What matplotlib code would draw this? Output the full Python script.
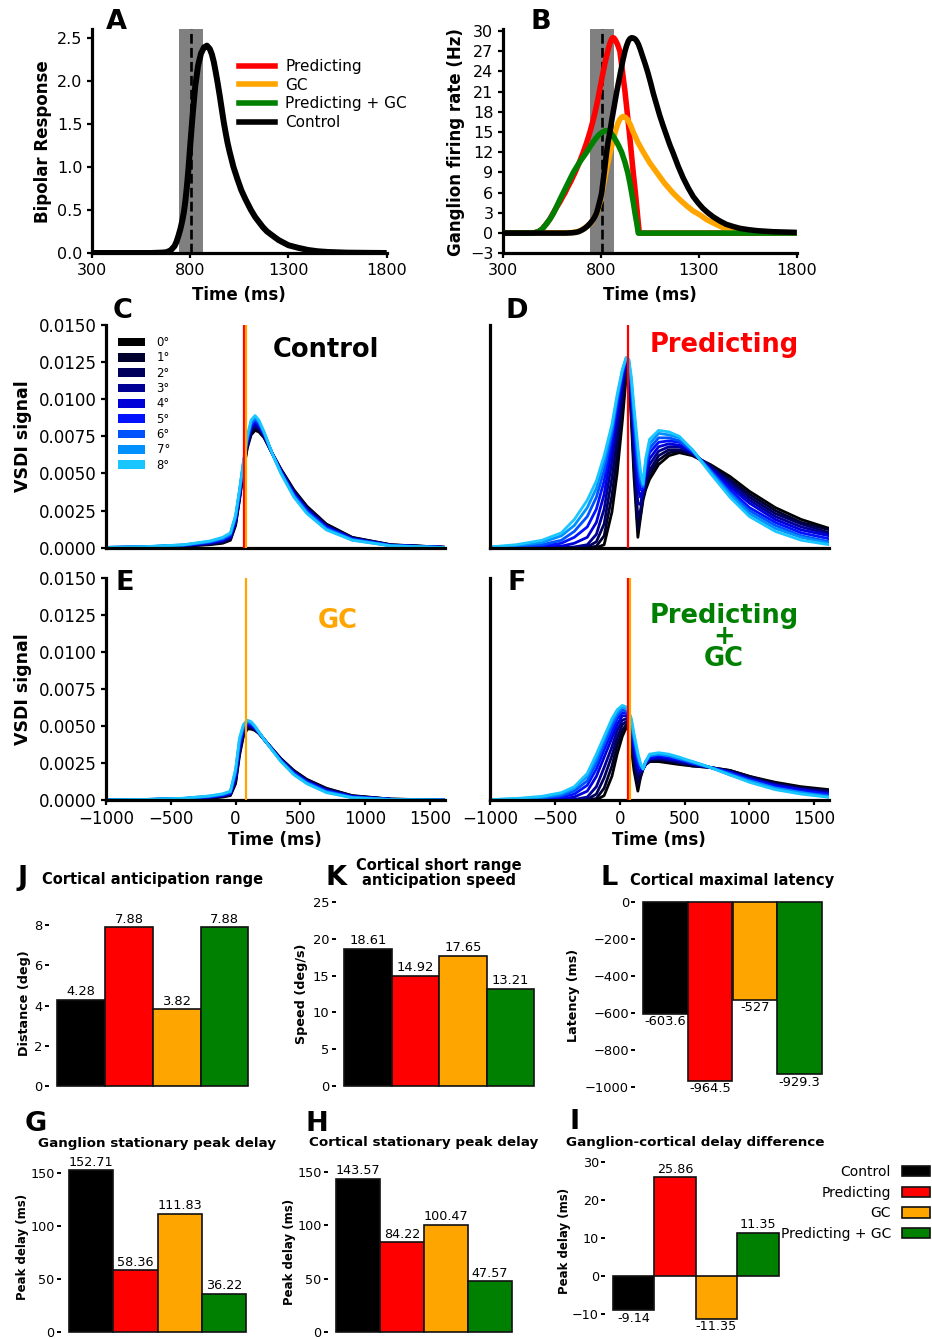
import matplotlib
matplotlib.use("Agg")
import matplotlib.pyplot as plt
from matplotlib.patches import Patch
from matplotlib.lines import Line2D
from matplotlib.ticker import FormatStrFormatter

# ---------------- DATA ----------------
STIM_START, STIM_END, STIM_CENTER = 745, 865, 805

# Panel A: bipolar response (time ms, value)
bip_t = [300, 600, 660, 680, 700, 720, 730, 740, 750, 760, 768, 775, 782, 790, 800, 812, 825, 840, 855, 870,
         885, 900, 910, 920, 930, 940, 950, 960, 970, 980, 990, 1000, 1010, 1020, 1040, 1060, 1080, 1109, 1130, 1150,
         1170, 1191, 1220, 1250, 1300, 1350, 1400, 1450, 1500, 1600, 1800]
bip_v = [0, 0, 0.005, 0.01, 0.03, 0.08, 0.13, 0.2, 0.28, 0.38, 0.48, 0.6, 0.75, 0.95, 1.25, 1.6, 1.93, 2.18, 2.32, 2.39,
         2.41, 2.37, 2.31, 2.22, 2.1, 1.97, 1.83, 1.68, 1.53, 1.40, 1.28, 1.18, 1.09, 1.0, 0.86, 0.73, 0.63, 0.5, 0.42, 0.36,
         0.30, 0.25, 0.2, 0.15, 0.09, 0.06, 0.035, 0.02, 0.012, 0.004, 0.0]

# Panel B: ganglion firing rate
pred_t = [300, 440, 460, 480, 500, 520, 540, 557, 575, 590, 605, 617, 630, 645, 668, 690, 710, 728, 744, 758,
          771, 782, 792, 802, 812, 823, 835, 845, 853, 860, 867, 875, 885, 897, 910, 923, 934, 945, 955, 965,
          976, 986, 996, 1800]
pred_v = [0, 0, 0.05, 0.2, 0.6, 1.3, 2.1, 3, 3.9, 4.6, 5.4, 6, 6.8, 7.6, 9, 10.5, 12, 13.5, 15, 16.5,
          18, 19.5, 21, 22.5, 24, 25.5, 27, 28.1, 28.7, 29, 28.95, 28.6, 28, 27, 24, 21, 18, 15, 12, 9,
          6, 3, 0, 0]
gc_t = [300, 650, 693, 720, 750, 778, 795, 812, 829, 850, 865, 876, 887, 897, 906, 914, 924, 935, 950, 965,
        990, 1017, 1050, 1085, 1125, 1170, 1205, 1240, 1270, 1306, 1340, 1374, 1410, 1442, 1490, 1550, 1620, 1700, 1800]
gc_v = [0, 0.05, 0.3, 0.8, 1.5, 2.9, 4.5, 7, 9.5, 12.3, 14.1, 15.3, 16.3, 16.9, 17.2, 17.3, 17.2, 16.9, 16.1, 15,
        13.4, 12, 10.4, 9, 7.4, 5.9, 4.9, 4.0, 3.3, 2.7, 2.0, 1.5, 1.0, 0.6, 0.35, 0.15, 0.06, 0.02, 0.0]
predgc_t = [300, 440, 460, 480, 500, 520, 540, 557, 575, 591, 608, 625, 642, 659, 676, 693, 710, 727, 744, 760,
            775, 790, 803, 815, 825, 835, 845, 855, 865, 875, 890, 906, 922, 937, 947, 957, 966, 974, 983, 991, 1800]
predgc_v = [0, 0, 0.05, 0.2, 0.6, 1.3, 2.1, 2.9, 4.0, 5.0, 6.0, 7.0, 8.0, 9.0, 9.8, 10.6, 11.3, 12.0, 12.8, 13.5,
            14.1, 14.6, 14.9, 15.1, 15.2, 15.2, 15.0, 14.7, 14.3, 13.8, 13.0, 12.0, 10.6, 9.0, 7.6, 6.0, 4.5, 3.0, 1.5, 0, 0]
ctrl_t = [300, 620, 650, 670, 685, 700, 715, 730, 745, 760, 770, 778, 785, 792, 798, 804, 810, 817, 823, 829,
          837, 846, 854, 863, 872, 881, 891, 901, 912, 923, 931, 940, 948, 957, 966, 975, 984, 992, 1001, 1010,
          1025, 1040, 1054, 1068, 1084, 1100, 1117, 1135, 1152, 1170, 1195, 1220, 1246, 1272, 1296, 1320, 1347, 1374,
          1407, 1440, 1475, 1510, 1555, 1600, 1680, 1800]
ctrl_v = [0, 0, 0.04, 0.1, 0.2, 0.4, 0.65, 1.0, 1.45, 2.0, 2.5, 3.0, 3.7, 4.5, 5.2, 6.0, 7.4, 9.0, 10.5, 12.0,
          13.6, 15.0, 16.5, 18.0, 19.5, 21.0, 22.5, 24.0, 25.6, 27.0, 27.8, 28.5, 28.85, 29.0, 28.95, 28.8, 28.45, 28.0, 27.3, 26.5,
          25.2, 23.8, 22.3, 20.7, 19.1, 17.5, 16.0, 14.5, 13.1, 11.8, 9.9, 8.2, 6.7, 5.4, 4.5, 3.7, 3.0, 2.4,
          1.8, 1.3, 0.98, 0.7, 0.5, 0.35, 0.2, 0.1]

condition_labels = ['Predicting', 'GC', 'Predicting + GC', 'Control']

# VSDI curves, one list per eccentricity 0..8 deg
deg_labels = ['0°', '1°', '2°', '3°', '4°', '5°', '6°', '7°', '8°']
deg_colors = ['#000000', '#00002e', '#00005c', '#000094', '#0000d8', '#0012ff', '#0052ff', '#0090ff', '#1ac6ff']

PRED_LINE, GC_LINE = 65, 80

t_ce = [-1000, -700, -400, -200, -100, -40, 0, 30, 60, 90, 120, 150, 180, 220, 280, 350, 450, 550, 700, 900, 1200, 1616]
vsdi_control = [
    [0.00001, 0.00003, 0.0001, 0.0002, 0.0003, 0.0005, 0.0015, 0.0032, 0.0051, 0.0067, 0.0076, 0.0079, 0.0078, 0.0074, 0.0064, 0.0053, 0.0039, 0.0028, 0.0016, 0.0007, 0.0002, 0.00003],
    [0.00001, 0.000035, 0.00011, 0.00023, 0.00035, 0.00056, 0.00159, 0.00329, 0.00519, 0.0068, 0.00773, 0.00803, 0.0079, 0.00745, 0.0064, 0.00526, 0.00384, 0.00274, 0.00155, 0.00068, 0.00019, 0.00003],
    [0.00001, 0.00004, 0.000125, 0.00026, 0.0004, 0.00063, 0.00168, 0.00338, 0.00528, 0.0069, 0.00785, 0.00815, 0.008, 0.0075, 0.0064, 0.00523, 0.00378, 0.00268, 0.0015, 0.00065, 0.00018, 0.00003],
    [0.00001, 0.000045, 0.00014, 0.00029, 0.00045, 0.00069, 0.00176, 0.00346, 0.00536, 0.007, 0.00798, 0.00828, 0.0081, 0.00755, 0.0064, 0.00519, 0.00371, 0.00261, 0.00145, 0.00063, 0.00017, 0.00002],
    [0.00002, 0.00005, 0.00015, 0.00033, 0.0005, 0.00075, 0.00185, 0.00355, 0.00545, 0.0071, 0.0081, 0.0084, 0.0082, 0.0076, 0.0064, 0.00515, 0.00365, 0.00255, 0.0014, 0.0006, 0.00016, 0.00002],
    [0.00002, 0.000055, 0.00016, 0.00036, 0.00055, 0.00081, 0.00194, 0.00364, 0.00554, 0.0072, 0.00823, 0.00853, 0.0083, 0.00765, 0.0064, 0.00511, 0.00359, 0.00249, 0.00135, 0.00058, 0.00015, 0.00002],
    [0.00002, 0.00006, 0.000175, 0.00039, 0.0006, 0.00088, 0.00203, 0.00373, 0.00563, 0.0073, 0.00835, 0.00865, 0.0084, 0.0077, 0.0064, 0.00508, 0.00353, 0.00243, 0.0013, 0.00055, 0.00014, 0.00001],
    [0.00002, 0.000065, 0.00019, 0.00042, 0.00065, 0.00094, 0.00211, 0.00381, 0.00571, 0.0074, 0.00848, 0.00878, 0.0085, 0.00775, 0.0064, 0.00504, 0.00346, 0.00236, 0.00125, 0.00053, 0.00013, 0.00001],
    [0.00002, 0.00007, 0.0002, 0.00045, 0.0007, 0.001, 0.0022, 0.0039, 0.0058, 0.0075, 0.0086, 0.0089, 0.0086, 0.0078, 0.0064, 0.005, 0.0034, 0.0023, 0.0012, 0.0005, 0.00012, 0.00001],
]
vsdi_gc = [
    [0.0, 0.00002, 0.00006, 0.00012, 0.0002, 0.0003, 0.0011, 0.003, 0.0043, 0.0048, 0.0048, 0.0047, 0.0045, 0.0041, 0.0035, 0.0028, 0.002, 0.0014, 0.0008, 0.0003, 0.00006, 0.00001],
    [0.0, 0.000022, 0.000068, 0.00014, 0.00023, 0.00034, 0.00123, 0.00315, 0.0044, 0.00488, 0.00486, 0.00474, 0.00451, 0.0041, 0.00349, 0.00278, 0.00196, 0.00136, 0.00076, 0.00028, 0.000056, 0.00001],
    [0.0, 0.000025, 0.000075, 0.00016, 0.00026, 0.00038, 0.00135, 0.0033, 0.0045, 0.00495, 0.00493, 0.00478, 0.00453, 0.0041, 0.00348, 0.00275, 0.00193, 0.00133, 0.00073, 0.00026, 0.000053, 0.00001],
    [0.0, 0.000027, 0.000083, 0.00018, 0.00028, 0.00041, 0.00148, 0.00345, 0.0046, 0.00503, 0.00499, 0.00481, 0.00454, 0.0041, 0.00346, 0.00273, 0.00189, 0.00129, 0.00069, 0.00024, 0.000049, 0.00001],
    [0.00001, 0.00003, 0.00009, 0.0002, 0.00031, 0.00045, 0.0016, 0.0036, 0.0047, 0.0051, 0.00505, 0.00485, 0.00455, 0.0041, 0.00345, 0.0027, 0.00185, 0.00125, 0.00065, 0.00023, 0.000045, 0.00001],
    [0.00001, 0.000032, 0.000098, 0.00022, 0.00034, 0.00049, 0.00173, 0.00375, 0.0048, 0.00518, 0.00511, 0.00489, 0.00456, 0.0041, 0.00344, 0.00268, 0.00181, 0.00121, 0.00061, 0.00021, 0.000041, 0.0],
    [0.00001, 0.000035, 0.000105, 0.00024, 0.00037, 0.00053, 0.00185, 0.0039, 0.0049, 0.00525, 0.00518, 0.00493, 0.00458, 0.0041, 0.00343, 0.00265, 0.00178, 0.00118, 0.00058, 0.00019, 0.000038, 0.0],
    [0.00001, 0.000037, 0.000113, 0.00026, 0.00039, 0.00056, 0.00198, 0.00405, 0.005, 0.00533, 0.00524, 0.00496, 0.00459, 0.0041, 0.00341, 0.00263, 0.00174, 0.00114, 0.00054, 0.00017, 0.000034, 0.0],
    [0.00001, 0.00004, 0.00012, 0.00028, 0.00042, 0.0006, 0.0021, 0.0042, 0.0051, 0.0054, 0.0053, 0.005, 0.0046, 0.0041, 0.0034, 0.0026, 0.0017, 0.0011, 0.0005, 0.00015, 0.00003, 0.0],
]

t_df = [-1000, -800, -600, -450, -350, -250, -180, -120, -60, -20, 20, 50, 70, 90, 110, 140, 160, 180, 200,
        230, 300, 380, 460, 560, 700, 850, 1000, 1200, 1400, 1616]
vsdi_pred = [
    [0, 0, 0, 0, 0, 0, 0, 0.0002, 0.0024, 0.005, 0.0085, 0.0115, 0.0117, 0.0085, 0.0048, 0.0007, 0.002, 0.0032, 0.0039,
     0.0046, 0.0056, 0.0062, 0.0064, 0.0062, 0.0056, 0.0048, 0.0038, 0.0027, 0.0019, 0.0013],
    [0, 0, 0, 0, 0, 0, 0.0001, 0.0008, 0.0035, 0.0062, 0.0095, 0.0119, 0.0119, 0.009, 0.0055, 0.0012, 0.0022, 0.0034, 0.0041,
     0.0049, 0.0059, 0.0064, 0.0065, 0.0063, 0.0055, 0.0046, 0.0036, 0.0025, 0.0017, 0.0012],
    [0, 0, 0, 0, 0, 0.00005, 0.0004, 0.0016, 0.0047, 0.0073, 0.0103, 0.0122, 0.012, 0.0094, 0.0062, 0.002, 0.0025, 0.0036, 0.0044,
     0.0052, 0.0062, 0.0066, 0.0066, 0.0063, 0.0055, 0.0045, 0.0034, 0.0023, 0.0016, 0.001],
    [0, 0, 0, 0, 0.00005, 0.0002, 0.0009, 0.0026, 0.0058, 0.0083, 0.0109, 0.0124, 0.0122, 0.0098, 0.0069, 0.003, 0.0029, 0.0038, 0.0047,
     0.0056, 0.0065, 0.0068, 0.0068, 0.0064, 0.0054, 0.0043, 0.0032, 0.0021, 0.0014, 0.0009],
    [0, 0, 0.00005, 0.0001, 0.0003, 0.0007, 0.0017, 0.0036, 0.0067, 0.009, 0.0113, 0.0126, 0.0123, 0.0102, 0.0075, 0.004, 0.0034, 0.0039, 0.005,
     0.006, 0.0068, 0.007, 0.0069, 0.0064, 0.0053, 0.0041, 0.003, 0.0019, 0.0012, 0.0008],
    [0.00001, 0.00005, 0.0001, 0.0003, 0.0007, 0.0014, 0.0026, 0.0045, 0.0073, 0.0095, 0.0116, 0.0127, 0.0124, 0.0106, 0.0081, 0.0049, 0.0039, 0.004, 0.0053,
     0.0064, 0.0071, 0.0072, 0.0071, 0.0065, 0.0052, 0.0039, 0.0027, 0.0017, 0.001, 0.0006],
    [0.00002, 0.0001, 0.0002, 0.0005, 0.0011, 0.0021, 0.0034, 0.0052, 0.0077, 0.0099, 0.0118, 0.0127, 0.0125, 0.0109, 0.0086, 0.0056, 0.0044, 0.0041, 0.0055,
     0.0067, 0.0074, 0.0074, 0.0072, 0.0065, 0.0052, 0.0037, 0.0025, 0.0015, 0.0008, 0.0004],
    [0.00003, 0.00015, 0.00035, 0.0008, 0.0015, 0.0027, 0.004, 0.0058, 0.008, 0.0101, 0.0119, 0.0128, 0.0126, 0.0112, 0.0091, 0.0062, 0.0048, 0.0042, 0.0058,
     0.007, 0.0077, 0.0076, 0.0074, 0.0066, 0.0051, 0.0036, 0.0023, 0.0013, 0.0007, 0.0003],
    [0.00005, 0.0002, 0.0005, 0.001, 0.0019, 0.0032, 0.0045, 0.0062, 0.0083, 0.0103, 0.012, 0.0128, 0.0127, 0.0115, 0.0095, 0.0068, 0.0052, 0.0043, 0.006,
     0.0073, 0.0079, 0.0078, 0.0075, 0.0066, 0.005, 0.0034, 0.0021, 0.0011, 0.0005, 0.0002],
]
vsdi_predgc = [
    [0, 0, 0, 0, 0, 0, 0, 0.0003, 0.0016, 0.0031, 0.0043, 0.0049, 0.0047, 0.0035, 0.002, 0.0006, 0.0015, 0.0021, 0.0024,
     0.0026, 0.0026, 0.0025, 0.0024, 0.0023, 0.0022, 0.002, 0.0016, 0.0012, 0.0009, 0.0007],
    [0, 0, 0, 0, 0, 0, 0.0001, 0.0008, 0.0023, 0.0037, 0.0047, 0.0051, 0.0049, 0.0038, 0.0024, 0.001, 0.0016, 0.0021, 0.0024,
     0.0026, 0.0027, 0.0026, 0.0025, 0.0023, 0.0022, 0.002, 0.0016, 0.0011, 0.0008, 0.0006],
    [0, 0, 0, 0, 0, 0.00005, 0.0004, 0.0015, 0.003, 0.0042, 0.0051, 0.0053, 0.0051, 0.0041, 0.0028, 0.0014, 0.0018, 0.0021, 0.0025,
     0.0027, 0.0028, 0.0027, 0.0025, 0.0024, 0.0022, 0.0019, 0.0015, 0.0011, 0.0008, 0.0006],
    [0, 0, 0, 0, 0.00003, 0.0002, 0.0009, 0.0022, 0.0036, 0.0047, 0.0054, 0.0055, 0.0053, 0.0044, 0.0031, 0.0018, 0.0019, 0.0021, 0.0025,
     0.0028, 0.0028, 0.0027, 0.0026, 0.0024, 0.0022, 0.0019, 0.0015, 0.001, 0.0007, 0.0005],
    [0, 0, 0.00003, 0.00008, 0.0002, 0.0006, 0.0016, 0.0029, 0.0042, 0.0051, 0.0057, 0.0057, 0.0055, 0.0046, 0.0035, 0.0021, 0.002, 0.0021, 0.0025,
     0.0028, 0.0029, 0.0028, 0.0027, 0.0025, 0.0022, 0.0019, 0.0014, 0.001, 0.0007, 0.0004],
    [0.00001, 0.00003, 0.00007, 0.0002, 0.0004, 0.001, 0.0021, 0.0034, 0.0046, 0.0055, 0.0059, 0.0059, 0.0056, 0.0049, 0.0038, 0.0025, 0.0022, 0.0021, 0.0025,
     0.0029, 0.003, 0.0029, 0.0027, 0.0025, 0.0022, 0.0018, 0.0014, 0.0009, 0.0006, 0.0004],
    [0.00001, 0.00005, 0.00012, 0.0003, 0.0006, 0.0013, 0.0025, 0.0038, 0.005, 0.0057, 0.0061, 0.006, 0.0058, 0.0051, 0.0041, 0.0028, 0.0023, 0.0021, 0.0026,
     0.003, 0.0031, 0.003, 0.0028, 0.0025, 0.0022, 0.0018, 0.0013, 0.0008, 0.0005, 0.0003],
    [0.00002, 0.00008, 0.00018, 0.0004, 0.0008, 0.0016, 0.0028, 0.0041, 0.0053, 0.0059, 0.0063, 0.0062, 0.0059, 0.0053, 0.0043, 0.003, 0.0024, 0.0021, 0.0026,
     0.003, 0.0031, 0.003, 0.0028, 0.0026, 0.0022, 0.0017, 0.0013, 0.0008, 0.0005, 0.0002],
    [0.00003, 0.0001, 0.00025, 0.0005, 0.0009, 0.0018, 0.0031, 0.0043, 0.0055, 0.0061, 0.0064, 0.0063, 0.006, 0.0055, 0.0045, 0.0032, 0.0025, 0.0021, 0.0026,
     0.0031, 0.0032, 0.0031, 0.0029, 0.0026, 0.0022, 0.0017, 0.0012, 0.0007, 0.0004, 0.00018],
]

# Bar panels
bar_categories = ['Control', 'Predicting', 'GC', 'Predicting + GC']
bar_colors = ['#000000', '#ff0000', '#ffa500', '#008000']
anticipation_range = [4.28, 7.88, 3.82, 7.88]
anticipation_speed = [18.61, 14.92, 17.65, 13.21]
maximal_latency = [-603.6, -964.5, -527, -929.3]
ganglion_peak_delay = [152.71, 58.36, 111.83, 36.22]
cortical_peak_delay = [143.57, 84.22, 100.47, 47.57]
delay_difference = [-9.14, 25.86, -11.35, 11.35]

# ---------------- FIGURE ----------------
W, H = 932, 1339
fig = plt.figure(figsize=(W / 100, H / 100), dpi=100)


def add_ax(l, t, r, b):
    return fig.add_axes([l / W, 1 - b / H, (r - l) / W, (b - t) / H])


def ftext(x, y, s, **kw):
    return fig.text(x / W, 1 - y / H, s, **kw)


def style_line_ax(ax, tick_size):
    for s in ['top', 'right']:
        ax.spines[s].set_visible(False)
    for s in ['left', 'bottom']:
        ax.spines[s].set_linewidth(2.3)
    ax.tick_params(direction='out', length=3.4, width=1.6, labelsize=tick_size, pad=3.5)


RED, ORANGE, GREEN = '#ff0000', '#ffa500', '#008000'
LKW = dict(solid_joinstyle='round', solid_capstyle='butt')

# ---- Panel A ----
axA = add_ax(92, 29.3, 386.7, 253)
axA.axvspan(STIM_START, STIM_END, color='#808080', lw=0, zorder=1)
axA.axvline(STIM_CENTER, color='k', ls='--', lw=1.9, zorder=2)
axA.plot(bip_t, bip_v, color='k', lw=4.3, zorder=3, **LKW)
axA.set_xlim(300, 1800)
axA.set_ylim(0, 2.6)
axA.set_xticks([300, 800, 1300, 1800])
axA.set_yticks([0, 0.5, 1.0, 1.5, 2.0, 2.5])
axA.yaxis.set_major_formatter(FormatStrFormatter('%.1f'))
style_line_ax(axA, 11.5)
handlesA = [Line2D([], [], color=c, lw=4) for c in [RED, ORANGE, GREEN, 'k']]
fig.legend(handlesA, condition_labels, loc='upper left', bbox_to_anchor=(231 / W, 1 - 51.5 / H),
           frameon=False, fontsize=11, handlelength=2.4, handletextpad=0.65, labelspacing=0.24, borderpad=0)

# ---- Panel B ----
axB = add_ax(503, 29.3, 796.7, 253.3)
axB.axvspan(STIM_START, STIM_END, color='#808080', lw=0, zorder=1)
axB.axvline(STIM_CENTER, color='k', ls='--', lw=1.9, zorder=2)
axB.plot(pred_t, pred_v, color=RED, lw=4, zorder=3, **LKW)
axB.plot(gc_t, gc_v, color=ORANGE, lw=4, zorder=4, **LKW)
axB.plot(predgc_t, predgc_v, color=GREEN, lw=4, zorder=5, **LKW)
axB.plot(ctrl_t, ctrl_v, color='k', lw=4, zorder=6, **LKW)
axB.set_xlim(300, 1800)
axB.set_ylim(-3, 30.25)
axB.set_xticks([300, 800, 1300, 1800])
axB.set_yticks(list(range(-3, 31, 3)))
style_line_ax(axB, 11.5)

ftext(43, 141.7, 'Bipolar Response', rotation=90, ha='center', va='center', fontsize=12, fontweight='bold')
ftext(455.7, 141.7, 'Ganglion firing rate (Hz)', rotation=90, ha='center', va='center', fontsize=12, fontweight='bold')
ftext(239, 295, 'Time (ms)', ha='center', va='center', fontsize=12, fontweight='bold')
ftext(650, 295, 'Time (ms)', ha='center', va='center', fontsize=12, fontweight='bold')

# ---- Panels C-F ----
XL = (-1000, 1616)
axC = add_ax(106, 325, 445, 547.7)
axD = add_ax(490, 325, 829.3, 547.7)
axE = add_ax(106, 578.3, 445, 800)
axF = add_ax(490, 578.3, 829.3, 800)

for ax, tt, data in [(axC, t_ce, vsdi_control), (axD, t_df, vsdi_pred),
                     (axE, t_ce, vsdi_gc), (axF, t_df, vsdi_predgc)]:
    for k, vals in enumerate(data):
        ax.plot(tt, vals, color=deg_colors[k], lw=2.0, zorder=2 + k * 0.01, **LKW)
    ax.set_xlim(*XL)
    ax.set_ylim(0, 0.015)
    style_line_ax(ax, 12)
    ax.set_xticks([-1000, -500, 0, 500, 1000, 1500])
    ax.set_yticks([0, 0.0025, 0.005, 0.0075, 0.01, 0.0125, 0.015])
    ax.yaxis.set_major_formatter(FormatStrFormatter('%.4f'))

axC.axvline(PRED_LINE, color=RED, lw=1.6, zorder=5)
axC.axvline(GC_LINE, color=ORANGE, lw=1.6, zorder=5)
axD.axvline(PRED_LINE, color=RED, lw=1.6, zorder=5)
axE.axvline(GC_LINE, color=ORANGE, lw=1.6, zorder=5)
axF.axvline(PRED_LINE, color=RED, lw=1.6, zorder=5)
axF.axvline(GC_LINE, color=ORANGE, lw=1.6, zorder=5)

for ax in (axC, axD):
    ax.tick_params(bottom=False, labelbottom=False)
for ax in (axD, axF):
    ax.tick_params(left=False, labelleft=False)

handlesC = [Patch(facecolor=c, edgecolor='none') for c in deg_colors]
axC.legend(handlesC, deg_labels, loc='upper left', bbox_to_anchor=((118 - 106) / 339, (547.7 - 336) / 222.7),
           frameon=False, fontsize=8.4, handlelength=2.3, handleheight=0.75, handletextpad=1.0,
           labelspacing=0.2, borderpad=0, borderaxespad=0)

ftext(325.5, 356.7, 'Control', ha='center', va='baseline', fontsize=18.5, fontweight='bold', color='k')
ftext(724, 351.7, 'Predicting', ha='center', va='baseline', fontsize=18.5, fontweight='bold', color=RED)
ftext(338, 628.3, 'GC', ha='center', va='baseline', fontsize=18.5, fontweight='bold', color=ORANGE)
ftext(724, 666, 'Predicting\n+\nGC', ha='center', va='baseline', multialignment='center',
      linespacing=0.78, fontsize=18.5, fontweight='bold', color=GREEN)

ftext(23.5, 436.5, 'VSDI signal', rotation=90, ha='center', va='center', fontsize=12.5, fontweight='bold')
ftext(23.5, 689, 'VSDI signal', rotation=90, ha='center', va='center', fontsize=12.5, fontweight='bold')
ftext(275, 840, 'Time (ms)', ha='center', va='center', fontsize=12, fontweight='bold')
ftext(659, 840, 'Time (ms)', ha='center', va='center', fontsize=12, fontweight='bold')

# ---- Panel letters ----
for letter, x, y in [('A', 106, 29.3), ('B', 530.7, 29.3), ('C', 113, 318), ('D', 505, 318),
                     ('E', 115, 590), ('F', 507.7, 590),
                     ('J', 17.3, 885), ('K', 325, 885), ('L', 600.7, 885),
                     ('G', 25, 1130.7), ('H', 305, 1130.7), ('I', 569.3, 1129.3)]:
    ftext(x, y, letter, ha='left', va='baseline', fontsize=19.5, fontweight='bold')

# ---- Bar panels ----
MARGIN = 0.175


def bar_panel(bar_left, bw, y0, ppu, ylo, yhi, values, ticks, ylabel, ylabel_x, lab_size, tick_size):
    l = bar_left - MARGIN * bw
    r = bar_left + (4 + MARGIN) * bw
    t = y0 - yhi * ppu
    b = y0 - ylo * ppu
    ax = add_ax(l, t, r, b)
    bars = ax.bar(range(4), values, width=1.0, color=bar_colors, edgecolor='#111111', linewidth=1.2)
    for bar in bars:
        bar.set_clip_on(False)
    ax.set_xlim(-0.5 - MARGIN, 3.5 + MARGIN)
    ax.set_ylim(ylo, yhi)
    ax.set_yticks(ticks)
    ax.set_xticks([])
    for s in ax.spines.values():
        s.set_visible(False)
    ax.tick_params(axis='y', direction='out', length=3.2, width=1.4, labelsize=tick_size, pad=1.5)
    for i, v in enumerate(values):
        ax.annotate(f"{v:g}", (i, v), xytext=(0, 1.2 if v >= 0 else -1.2), textcoords='offset points',
                    ha='center', va='bottom' if v >= 0 else 'top', fontsize=tick_size,
                    annotation_clip=False)
    ftext(ylabel_x, (t + b) / 2 if ylo >= 0 else y0 + (abs(ylo) * ppu - yhi * ppu) / 2, ylabel,
          rotation=90, ha='center', va='center', fontsize=lab_size, fontweight='bold')
    return ax


bar_panel(57.3, 47.75, 1086.3, 20.16, 0, 8.274, anticipation_range, [0, 2, 4, 6, 8],
          'Distance (deg)', 25, 9.2, 9.4)
bar_panel(344, 47.6, 1086.3, 7.384, 0, 25, anticipation_speed, [0, 5, 10, 15, 20, 25],
          'Speed (deg/s)', 301.7, 9.2, 9.4)
bar_panel(643.3, 44.6, 901.7, 0.1856, -1012, 4, maximal_latency, [0, -200, -400, -600, -800, -1000],
          'Latency (ms)', 574, 9.2, 9.4)
bar_panel(69, 44.25, 1332.3, 1.06, 0, 160.3, ganglion_peak_delay, [0, 50, 100, 150],
          'Peak delay (ms)', 22.5, 8.5, 9.2)
bar_panel(335.7, 44.1, 1332.3, 1.07, 0, 150.8, cortical_peak_delay, [0, 50, 100, 150],
          'Peak delay (ms)', 289, 8.5, 9.2)
bar_panel(612.7, 41.5, 1275.7, 3.8, -12, 30.3, delay_difference, [-10, 0, 10, 20, 30],
          'Peak delay (ms)', 564.7, 8.5, 9.2)

# Titles
ftext(152.8, 884.3, 'Cortical anticipation range', ha='center', va='baseline', fontsize=10.5, fontweight='bold')
ftext(439.2, 870, 'Cortical short range', ha='center', va='baseline', fontsize=10.5, fontweight='bold')
ftext(439.2, 885, 'anticipation speed', ha='center', va='baseline', fontsize=10.5, fontweight='bold')
ftext(732.5, 885, 'Cortical maximal latency', ha='center', va='baseline', fontsize=10.5, fontweight='bold')
ftext(157.5, 1146.7, 'Ganglion stationary peak delay', ha='center', va='baseline', fontsize=9.7, fontweight='bold')
ftext(423.9, 1146.3, 'Cortical stationary peak delay', ha='center', va='baseline', fontsize=9.7, fontweight='bold')
ftext(695.7, 1146.3, 'Ganglion-cortical delay difference', ha='center', va='baseline', fontsize=9.7, fontweight='bold')

# Legend for bars
handlesI = [Patch(facecolor=c, edgecolor='#111111', linewidth=1.2) for c in bar_colors]
fig.legend(handlesI, bar_categories, loc='upper right', bbox_to_anchor=(930 / W, 1 - 1165 / H),
           frameon=False, fontsize=10, markerfirst=False, handlelength=2.0, handleheight=0.75,
           handletextpad=0.8, labelspacing=0.48, borderpad=0, borderaxespad=0)

fig.savefig('out.png', dpi=100)
